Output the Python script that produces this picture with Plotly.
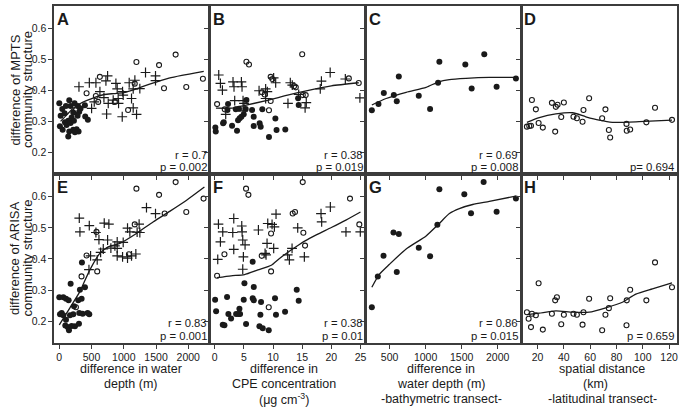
import plotly.graph_objects as go

# ---------------- data ----------------
# Panel A: MPTS vs water depth difference
A_fill_x = [0, 46, 21, 82, 155, 175, 237, 289, 330, 309, 402, 443, 284, 217, 191, 139, 88, 10, 52, 113, 175, 227, 155, 217, 268, 299, 242, 139, 397, 103]
A_fill_y = [0.359, 0.340, 0.318, 0.326, 0.368, 0.350, 0.359, 0.350, 0.342, 0.331, 0.316, 0.305, 0.318, 0.329, 0.313, 0.302, 0.297, 0.284, 0.273, 0.288, 0.295, 0.302, 0.267, 0.273, 0.275, 0.267, 0.265, 0.251, 0.352, 0.350]
A_open_x = [629, 1196, 1547, 1804, 2227, 1969, 1624, 423, 567, 603, 861, 1067, 1170, 258]
A_open_y = [0.444, 0.492, 0.482, 0.516, 0.438, 0.411, 0.407, 0.391, 0.382, 0.363, 0.363, 0.337, 0.422, 0.336]
A_plus_x = [305, 466, 568, 749, 723, 878, 898, 981, 1084, 1172, 1337, 1492, 1492, 1249, 1146, 991, 919, 734, 759, 836, 1120, 976, 1146, 1198, 501, 542, 630, 692, 913]
A_plus_y = [0.412, 0.425, 0.425, 0.447, 0.431, 0.423, 0.405, 0.396, 0.425, 0.433, 0.458, 0.447, 0.432, 0.406, 0.405, 0.385, 0.358, 0.324, 0.358, 0.369, 0.374, 0.315, 0.344, 0.323, 0.342, 0.363, 0.396, 0.377, 0.374]
A_fit_x = [20, 120, 220, 320, 420, 550, 700, 850, 1000, 1150, 1300, 1500, 1700, 1900, 2240]
A_fit_y = [0.300, 0.322, 0.343, 0.357, 0.367, 0.378, 0.387, 0.390, 0.393, 0.402, 0.413, 0.427, 0.440, 0.449, 0.462]

# Panel B: MPTS vs CPE difference
B_fill_x = [0.1, 0.17, 1.43, 1.54, 2.28, 2.17, 2.97, 3.6, 4.0, 4.28, 4.57, 4.16, 4.97, 3.82, 5.31, 5.43, 6.4, 6.68, 6.68, 7.7, 7.88, 8.16, 9.3, 10.4, 10.6, 12.1, 14.3, 14.4]
B_fill_y = [0.280, 0.267, 0.294, 0.297, 0.356, 0.337, 0.286, 0.339, 0.304, 0.310, 0.315, 0.341, 0.323, 0.270, 0.340, 0.369, 0.337, 0.315, 0.285, 0.294, 0.283, 0.339, 0.250, 0.309, 0.272, 0.274, 0.375, 0.353]
B_open_x = [0.40, 1.71, 5.43, 5.87, 9.59, 9.88, 9.59, 9.3, 8.1, 13.6, 13.9, 15.0, 15.1, 15.6, 23.0, 24.7, 8.56]
B_open_y = [0.356, 0.339, 0.493, 0.484, 0.444, 0.437, 0.366, 0.336, 0.394, 0.414, 0.410, 0.517, 0.385, 0.385, 0.439, 0.424, 0.387]
B_plus_x = [0.68, 0.97, 1.31, 3.13, 3.3, 4.57, 4.68, 3.42, 4.85, 5.02, 1.88, 4.85, 7.6, 8.73, 9.02, 10.1, 10.45, 12.96, 13.3, 12.56, 15.7, 15.5, 14.4, 18.3, 18.1, 19.8, 22.4, 24.9, 8.73]
B_plus_y = [0.450, 0.423, 0.401, 0.428, 0.412, 0.428, 0.412, 0.367, 0.367, 0.358, 0.323, 0.334, 0.399, 0.405, 0.396, 0.441, 0.425, 0.425, 0.417, 0.358, 0.361, 0.344, 0.387, 0.430, 0.405, 0.458, 0.437, 0.376, 0.374]
B_fit_x = [0.2, 3.0, 5.0, 9.0, 12.5, 15.5, 20.0, 24.7]
B_fit_y = [0.343, 0.343, 0.351, 0.368, 0.385, 0.398, 0.415, 0.425]

# Panel C: MPTS, bathymetric transect
C_fill_x = [254, 346, 420, 559, 628, 600, 905, 1062, 1173, 1191, 1551, 1814, 1639, 1985, 2253]
C_fill_y = [0.336, 0.356, 0.392, 0.385, 0.445, 0.365, 0.383, 0.340, 0.425, 0.493, 0.484, 0.517, 0.406, 0.412, 0.439]
C_fit_x = [254, 453, 730, 1007, 1181, 1330, 1561, 1884, 2253]
C_fit_y = [0.353, 0.374, 0.394, 0.410, 0.428, 0.435, 0.439, 0.442, 0.442]

# Panel D: MPTS, latitudinal transect
D_open_x = [11.9, 13.7, 15.0, 15.7, 18.7, 20.8, 24.0, 30.9, 33.4, 33.9, 35.2, 38.0, 40.0, 47.3, 49.9, 54.2, 54.9, 59.2, 69.1, 71.6, 74.2, 75.2, 87.6, 87.8, 90.4, 102.7, 109.3, 122.2]
D_open_y = [0.283, 0.285, 0.286, 0.369, 0.339, 0.295, 0.280, 0.360, 0.267, 0.347, 0.354, 0.314, 0.361, 0.315, 0.310, 0.299, 0.337, 0.375, 0.310, 0.339, 0.272, 0.248, 0.292, 0.270, 0.274, 0.297, 0.344, 0.305]
D_fit_x = [11.9, 21.3, 33.9, 46.6, 56.7, 66.8, 76.9, 97.2, 122.2]
D_fit_y = [0.297, 0.312, 0.324, 0.328, 0.315, 0.304, 0.297, 0.299, 0.304]

# Panel E: ARISA vs water depth difference
E_fill_x = [0, 62, 104, 145, 11, 37, 62, 104, 166, 217, 228, 176, 294, 346, 351, 320, 398, 310, 362, 439, 465, 93, 129, 150, 191, 243, 305]
E_fill_y = [0.277, 0.277, 0.272, 0.267, 0.222, 0.226, 0.219, 0.205, 0.219, 0.222, 0.248, 0.320, 0.267, 0.272, 0.389, 0.301, 0.309, 0.226, 0.224, 0.226, 0.222, 0.186, 0.181, 0.171, 0.185, 0.184, 0.192]
E_open_x = [1196, 1804, 1547, 2237, 1969, 1634, 1170, 577, 423, 588, 345, 258, 1080]
E_open_y = [0.626, 0.647, 0.606, 0.594, 0.551, 0.546, 0.511, 0.487, 0.411, 0.360, 0.344, 0.245, 0.415]
E_plus_x = [310, 320, 465, 697, 769, 568, 615, 749, 641, 588, 460, 485, 682, 800, 862, 898, 898, 991, 898, 981, 1058, 1120, 1187, 1058, 1094, 1207, 1238, 1249, 1352, 1492]
E_plus_y = [0.531, 0.487, 0.507, 0.515, 0.512, 0.485, 0.462, 0.461, 0.421, 0.397, 0.366, 0.410, 0.432, 0.435, 0.442, 0.455, 0.434, 0.453, 0.410, 0.407, 0.403, 0.410, 0.416, 0.499, 0.487, 0.486, 0.512, 0.485, 0.565, 0.546]
E_fit_x = [0, 165, 320, 474, 629, 758, 938, 1196, 1454, 1711, 1969, 2250]
E_fit_y = [0.188, 0.243, 0.296, 0.365, 0.418, 0.439, 0.450, 0.482, 0.519, 0.553, 0.588, 0.631]

# Panel F: ARISA vs CPE difference
F_fill_x = [0.06, 0.23, 1.37, 1.66, 2.11, 2.34, 2.8, 3.66, 4.06, 4.34, 4.23, 4.97, 5.37, 5.09, 6.51, 6.69, 6.51, 6.69, 7.83, 7.94, 7.66, 8.23, 9.26, 10.34, 10.5, 12.06, 14.06, 14.4]
F_fill_y = [0.269, 0.232, 0.189, 0.187, 0.278, 0.223, 0.209, 0.223, 0.223, 0.223, 0.240, 0.269, 0.191, 0.322, 0.391, 0.310, 0.274, 0.267, 0.221, 0.262, 0.184, 0.177, 0.171, 0.274, 0.221, 0.230, 0.301, 0.266]
F_open_x = [0.4, 5.37, 5.77, 15.09, 23.2, 24.8, 9.66, 9.26, 9.66, 8.06, 1.66, 13.37, 13.77, 15.2, 15.49]
F_open_y = [0.346, 0.626, 0.606, 0.647, 0.594, 0.511, 0.482, 0.245, 0.360, 0.410, 0.415, 0.546, 0.551, 0.484, 0.443]
F_plus_x = [0.63, 1.37, 0.97, 0.51, 3.26, 3.09, 4.63, 4.69, 4.8, 5.2, 3.26, 4.91, 4.8, 7.49, 9.09, 9.83, 10.51, 10.23, 8.97, 10.11, 8.63, 8.8, 12.51, 12.8, 13.26, 14.23, 15.37, 18.23, 18.34, 19.83, 22.51, 24.97]
F_plus_y = [0.512, 0.487, 0.455, 0.399, 0.530, 0.485, 0.506, 0.487, 0.461, 0.445, 0.431, 0.407, 0.367, 0.493, 0.514, 0.511, 0.544, 0.503, 0.450, 0.434, 0.418, 0.413, 0.413, 0.397, 0.434, 0.500, 0.407, 0.546, 0.519, 0.567, 0.487, 0.487]
F_fit_x = [0.4, 2.8, 5.1, 7.4, 9.7, 11.0, 12.5, 14.0, 15.5, 17.5, 20.0, 22.5, 25.0]
F_fit_y = [0.340, 0.346, 0.350, 0.365, 0.380, 0.400, 0.421, 0.440, 0.458, 0.478, 0.501, 0.525, 0.551]

# Panel G: ARISA, bathymetric transect
G_fill_x = [254, 337, 416, 554, 628, 600, 905, 1062, 1163, 1191, 1537, 1805, 1630, 1985, 2253]
G_fill_y = [0.245, 0.344, 0.410, 0.485, 0.480, 0.358, 0.436, 0.409, 0.510, 0.624, 0.608, 0.647, 0.547, 0.552, 0.594]
G_fit_x = [254, 360, 499, 730, 1007, 1181, 1330, 1468, 1653, 1884, 2253]
G_fit_y = [0.309, 0.351, 0.383, 0.432, 0.474, 0.512, 0.546, 0.562, 0.575, 0.585, 0.602]

# Panel H: ARISA, latitudinal transect
H_open_x = [11.9, 13.2, 15.0, 15.7, 18.7, 20.8, 24.0, 30.9, 33.4, 34.7, 38.0, 40.0, 47.3, 49.9, 54.2, 54.9, 59.2, 69.1, 71.6, 74.2, 75.2, 87.6, 87.8, 90.4, 102.7, 109.3, 122.2]
H_open_y = [0.229, 0.208, 0.181, 0.224, 0.219, 0.322, 0.173, 0.224, 0.267, 0.277, 0.190, 0.221, 0.224, 0.221, 0.189, 0.229, 0.272, 0.171, 0.221, 0.242, 0.274, 0.187, 0.267, 0.301, 0.267, 0.389, 0.309]
H_fit_x = [11.9, 21.3, 33.9, 46.6, 59.2, 71.9, 84.5, 94.7, 107.3, 122.2]
H_fit_y = [0.221, 0.226, 0.233, 0.229, 0.229, 0.243, 0.261, 0.287, 0.304, 0.323]

letters = ["A", "B", "C", "D", "E", "F", "G", "H"]
r_texts = ["r = 0.7", "r = 0.38", "r = 0.69", "", "r = 0.83", "r = 0.38", "r = 0.86", ""]
p_texts = ["p = 0.002", "p = 0.019", "p = 0.008", "p= 0.694", "p = 0.001", "p = 0.01", "p = 0.015", "p = 0.659"]

x_ranges = [[-82, 2333], [-0.86, 25.86], [166, 2327], [7.6, 126]]
x_ticks = [[0, 500, 1000, 1500, 2000], [0, 5, 10, 15, 20, 25], [500, 1000, 1500, 2000], [20, 40, 60, 80, 100, 120]]
y_range = [0.13, 0.673]
y_ticks = [0.2, 0.3, 0.4, 0.5, 0.6]

y_title_lines = [["difference of MPTS", "community structure"],
                 ["difference of ARISA", "community structure"]]
x_title_lines = [
    ["difference in water", "depth (m)"],
    ["difference in", "CPE concentration", "(μg cm<sup>-3</sup>)"],
    ["difference in", "water depth (m)", "-bathymetric transect-"],
    ["spatial distance", "(km)", "-latitudinal transect-"],
]

panels = [
    (A_fill_x, A_fill_y, A_open_x, A_open_y, A_plus_x, A_plus_y, A_fit_x, A_fit_y),
    (B_fill_x, B_fill_y, B_open_x, B_open_y, B_plus_x, B_plus_y, B_fit_x, B_fit_y),
    (C_fill_x, C_fill_y, [], [], [], [], C_fit_x, C_fit_y),
    ([], [], D_open_x, D_open_y, [], [], D_fit_x, D_fit_y),
    (E_fill_x, E_fill_y, E_open_x, E_open_y, E_plus_x, E_plus_y, E_fit_x, E_fit_y),
    (F_fill_x, F_fill_y, F_open_x, F_open_y, F_plus_x, F_plus_y, F_fit_x, F_fit_y),
    (G_fill_x, G_fill_y, [], [], [], [], G_fit_x, G_fit_y),
    ([], [], H_open_x, H_open_y, [], [], H_fit_x, H_fit_y),
]

# ---------------- layout geometry ----------------
W, H = 683, 409
ML, MR, MT, MB = 54, 5, 4, 66
PW, PH = W - ML - MR, H - MT - MB
col_px = [54, 210, 366, 522, 678]
row_px = [(4, 173), (173, 343)]
INK = "#1a1a1a"
FRAME = "#3c3c3c"
FONT = "Liberation Sans, Arial, Helvetica, sans-serif"

fig = go.Figure()
layout = dict(
    width=W, height=H,
    margin=dict(l=ML, r=MR, t=MT, b=MB),
    paper_bgcolor="white", plot_bgcolor="rgba(0,0,0,0)",
    showlegend=False, hovermode=False,
    font=dict(family=FONT, size=12, color=INK),
)
annotations = []

for k in range(8):
    r, c = divmod(k, 4)
    xa = "x" if k == 0 else f"x{k+1}"
    ya = "y" if k == 0 else f"y{k+1}"
    xkey = "xaxis" if k == 0 else f"xaxis{k+1}"
    ykey = "yaxis" if k == 0 else f"yaxis{k+1}"
    xd = [(col_px[c] - ML) / PW, (col_px[c + 1] - ML) / PW]
    top, bot = row_px[r]
    yd = [(H - MB - bot) / PH, (H - MB - top) / PH]
    layout[xkey] = dict(
        domain=xd, range=x_ranges[c], anchor=ya, showgrid=False, zeroline=False,
        showline=True, mirror=True, linecolor=FRAME, linewidth=1.6,
        ticks="outside", ticklen=4, tickwidth=1, tickcolor=FRAME,
        tickvals=x_ticks[c], showticklabels=(r == 1),
        tickfont=dict(size=10.5, color=INK),
    )
    layout[ykey] = dict(
        domain=yd, range=y_range, anchor=xa, showgrid=False, zeroline=False,
        showline=True, mirror=True, linecolor=FRAME, linewidth=1.6,
        ticks="outside", ticklen=4, tickwidth=1, tickcolor=FRAME,
        tickvals=y_ticks, ticktext=[f"{v:.1f}" for v in y_ticks],
        showticklabels=(c == 0), tickfont=dict(size=10.5, color=INK),
    )
    fx, fy, ox, oy, px, py, lx, ly = panels[k]
    if fx:
        fig.add_trace(go.Scatter(x=fx, y=fy, mode="markers", xaxis=xa, yaxis=ya,
                                 marker=dict(symbol="circle", size=6, color=INK)))
    if ox:
        fig.add_trace(go.Scatter(x=ox, y=oy, mode="markers", xaxis=xa, yaxis=ya,
                                 marker=dict(symbol="circle-open", size=5, color=INK,
                                             line=dict(width=1.1, color=INK))))
    if px:
        fig.add_trace(go.Scatter(x=px, y=py, mode="markers", xaxis=xa, yaxis=ya,
                                 marker=dict(symbol="cross-thin-open", size=7, color=INK,
                                             line=dict(width=1.2, color=INK))))
    fig.add_trace(go.Scatter(x=lx, y=ly, mode="lines", xaxis=xa, yaxis=ya,
                             line=dict(color=INK, width=1.3, shape="spline", smoothing=0.6)))

    # panel letter
    annotations.append(dict(xref=f"{xa} domain", yref=f"{ya} domain", x=0, y=1,
                            xanchor="left", yanchor="top", xshift=1, yshift=-2,
                            text=f"<b>{letters[k]}</b>", showarrow=False,
                            font=dict(size=16.5, color=INK, family=FONT)))
    ry, pyv = (0.112, 0.043) if r == 0 else (0.119, 0.043)
    if r_texts[k]:
        annotations.append(dict(xref=f"{xa} domain", yref=f"{ya} domain", x=1, y=ry,
                                xanchor="right", yanchor="middle", xshift=-1,
                                text=r_texts[k], showarrow=False, font=dict(size=11.3)))
    annotations.append(dict(xref=f"{xa} domain", yref=f"{ya} domain", x=1, y=pyv,
                            xanchor="right", yanchor="middle", xshift=-1,
                            text=p_texts[k], showarrow=False, font=dict(size=11.3)))

# y-axis titles (rotated, line by line)
y_line_cx = [14.5, 27.0]
for r, lines in enumerate(y_title_lines):
    top, bot = row_px[r]
    cy = (top + bot) / 2
    for i, t in enumerate(lines):
        annotations.append(dict(xref="paper", yref="paper", x=(y_line_cx[i] - ML) / PW,
                                y=(H - MB - cy) / PH, xanchor="center", yanchor="middle",
                                textangle=-90, text=t, showarrow=False, font=dict(size=13)))

# x-axis titles (line by line)
x_title_cx = [131, 284, 442, 603]
line_y = [369.3, 384.0, 399.5]
for c, lines in enumerate(x_title_lines):
    for i, t in enumerate(lines):
        cx = x_title_cx[c]
        if c == 3 and i == 1:
            cx = 596
        annotations.append(dict(xref="paper", yref="paper", x=(cx - ML) / PW,
                                y=(H - MB - line_y[i]) / PH, xanchor="center", yanchor="middle",
                                text=t, showarrow=False, font=dict(size=12.5)))

layout["annotations"] = annotations
fig.update_layout(**layout)
fig.write_html("out.html", config={"displayModeBar": False, "staticPlot": True},
               post_script="document.body.style.margin='0';document.body.style.overflow='hidden';")
